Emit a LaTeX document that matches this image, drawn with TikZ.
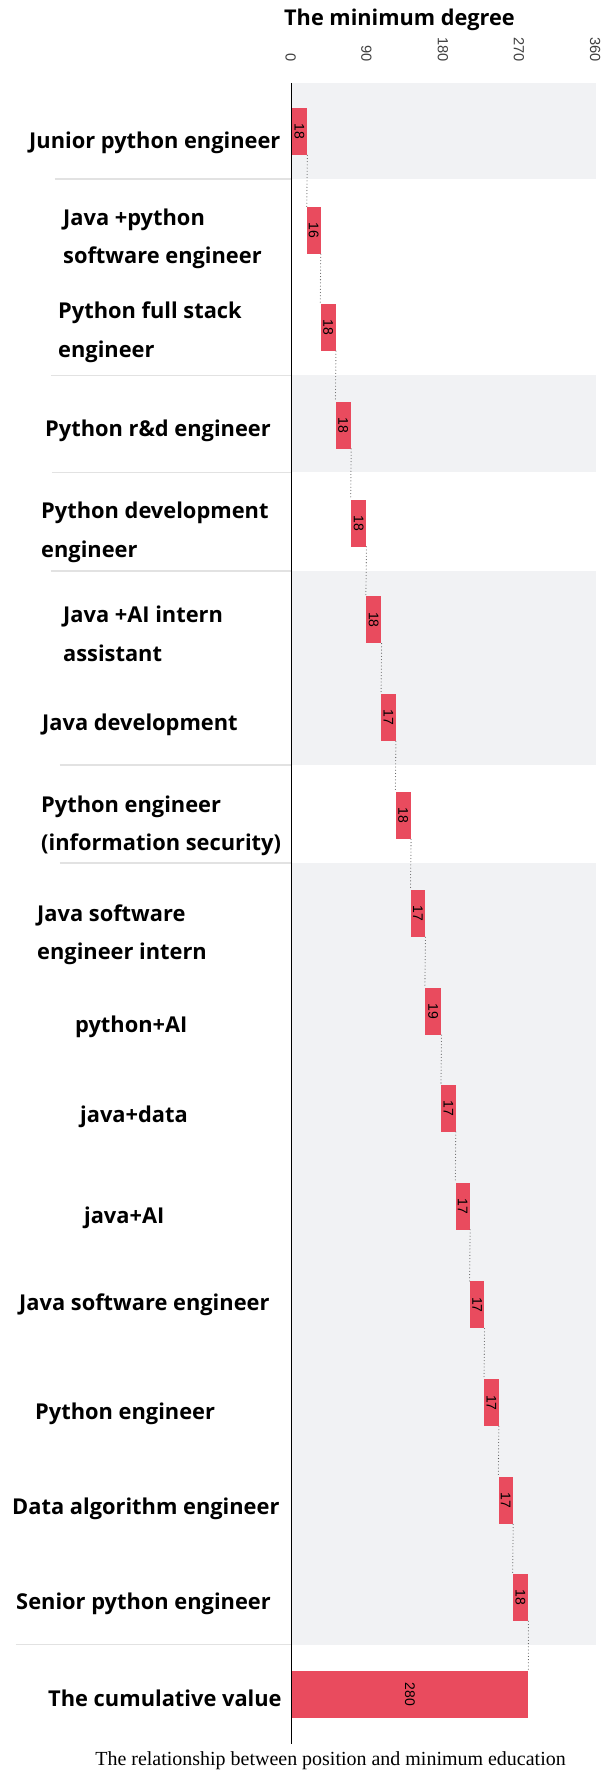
\documentclass[tikz,border=0pt]{standalone}
\usepackage{fontspec}
\usepackage{graphicx}
\setmainfont{Liberation Serif}
\newfontfamily\labelfont{Open Sans}
\newfontfamily\numfont{Liberation Sans}
\definecolor{barred}{RGB}{233,75,94}
\definecolor{bandgray}{RGB}{241,242,244}
\definecolor{sepgray}{RGB}{226,226,226}

\begin{document}
\begin{tikzpicture}[x=0.75pt,y=-0.75pt,
  bar/.style={fill=barred, draw=none, inner sep=0pt, minimum height=35.25pt, minimum width=#1*0.63375pt, anchor=north west, font=\numfont\fontsize{10.5}{12}\selectfont},
  catlabel/.style={anchor=west, align=left, inner sep=0pt, font=\labelfont\bfseries\fontsize{16.4}{29}\selectfont},
  ticklabel/.style={anchor=east, rotate=-90, inner sep=0pt, text=black!75, font=\numfont\fontsize{11}{13}\selectfont},
  sepline/.style={draw=sepgray, line width=1.2pt},
  conn/.style={draw=black!65, line width=0.8pt, line cap=round, dash pattern=on 0pt off 2.4pt}]

\fill[white] (0,0) rectangle (603,1774);

% bands
\fill[bandgray] (292,83) rectangle (597,179);
\fill[bandgray] (292,376) rectangle (597,473);
\fill[bandgray] (292,572) rectangle (597,766);
\fill[bandgray] (292,864) rectangle (597,1647);

% separators
\draw[sepline] (55,179) -- (292,179);
\draw[sepline] (51,376) -- (292,376);
\draw[sepline] (52,473) -- (292,473);
\draw[sepline] (51,572) -- (292,572);
\draw[sepline] (60,766) -- (292,766);
\draw[sepline] (60,864) -- (292,864);
\draw[sepline] (16,1647) -- (292,1647);

% axis
\node[font=\labelfont\bfseries\fontsize{16.3}{18}\selectfont] (title) at (400,20) {The minimum degree};
\node[ticklabel] (t0) at (291,62) {0};
\node[ticklabel] (t90) at (367,62) {90};
\node[ticklabel] (t180) at (443.5,62) {180};
\node[ticklabel] (t270) at (519.7,62) {270};
\node[ticklabel] (t360) at (596,62) {360};
\draw[line width=1.1pt] (292,83) -- (292,1746);

% positions
\node[catlabel] (l1) at (29,143) {Junior python engineer};
\node[catlabel] (l2) at (63,239) {Java +python\\software engineer};
\node[catlabel] (l3) at (58,333) {Python full stack\\engineer};
\node[catlabel] (l4) at (45,431) {Python r\&d engineer};
\node[catlabel] (l5) at (41,533) {Python development\\engineer};
\node[catlabel] (l6) at (63,635) {Java +AI intern\\assistant};
\node[catlabel] (l7) at (42,726) {Java development};
\node[catlabel] (l8) at (41,827) {Python engineer\\(information security)};
\node[catlabel] (l9) at (37,936) {Java software\\engineer intern};
\node[catlabel] (l10) at (75,1028) {python+AI};
\node[catlabel] (l11) at (80,1118) {java+data};
\node[catlabel] (l12) at (84,1220) {java+AI};
\node[catlabel] (l13) at (19,1307) {Java software engineer};
\node[catlabel] (l14) at (35,1416) {Python engineer};
\node[catlabel] (l15) at (12,1511) {Data algorithm engineer};
\node[catlabel] (l16) at (16,1606) {Senior python engineer};
\node[catlabel] (l17) at (48,1701) {The cumulative value};

% bars
\node[bar=18] (b1) at (292,108) {\rotatebox{-90}{18}};
\node[bar=16] (b2) at (307.2,207) {\rotatebox{-90}{16}};
\node[bar=18] (b3) at (320.7,304) {\rotatebox{-90}{18}};
\node[bar=18] (b4) at (335.9,402) {\rotatebox{-90}{18}};
\node[bar=18] (b5) at (351.2,500) {\rotatebox{-90}{18}};
\node[bar=18] (b6) at (366.4,597) {\rotatebox{-90}{18}};
\node[bar=17] (b7) at (381.6,695) {\rotatebox{-90}{17}};
\node[bar=18] (b8) at (395.9,793) {\rotatebox{-90}{18}};
\node[bar=17] (b9) at (411.1,891) {\rotatebox{-90}{17}};
\node[bar=19] (b10) at (425.5,989) {\rotatebox{-90}{19}};
\node[bar=17] (b11) at (441.6,1086) {\rotatebox{-90}{17}};
\node[bar=17] (b12) at (455.9,1184) {\rotatebox{-90}{17}};
\node[bar=17] (b13) at (470.3,1283) {\rotatebox{-90}{17}};
\node[bar=17] (b14) at (484.7,1381) {\rotatebox{-90}{17}};
\node[bar=17] (b15) at (499.0,1479) {\rotatebox{-90}{17}};
\node[bar=18] (b16) at (513.4,1576) {\rotatebox{-90}{18}};
\node[bar=280] (total) at (292,1673) {\rotatebox{-90}{280}};

% dotted steps
\draw[conn] (b1.south east) -- (b2.north west);
\draw[conn] (b2.south east) -- (b3.north west);
\draw[conn] (b3.south east) -- (b4.north west);
\draw[conn] (b4.south east) -- (b5.north west);
\draw[conn] (b5.south east) -- (b6.north west);
\draw[conn] (b6.south east) -- (b7.north west);
\draw[conn] (b7.south east) -- (b8.north west);
\draw[conn] (b8.south east) -- (b9.north west);
\draw[conn] (b9.south east) -- (b10.north west);
\draw[conn] (b10.south east) -- (b11.north west);
\draw[conn] (b11.south east) -- (b12.north west);
\draw[conn] (b12.south east) -- (b13.north west);
\draw[conn] (b13.south east) -- (b14.north west);
\draw[conn] (b14.south east) -- (b15.north west);
\draw[conn] (b15.south east) -- (b16.north west);
\draw[conn] (b16.south east) -- (total.north east);

\node[font=\fontsize{15}{18}\selectfont] (caption) at (331,1763) {The relationship between position and minimum education};

\end{tikzpicture}
\end{document}
